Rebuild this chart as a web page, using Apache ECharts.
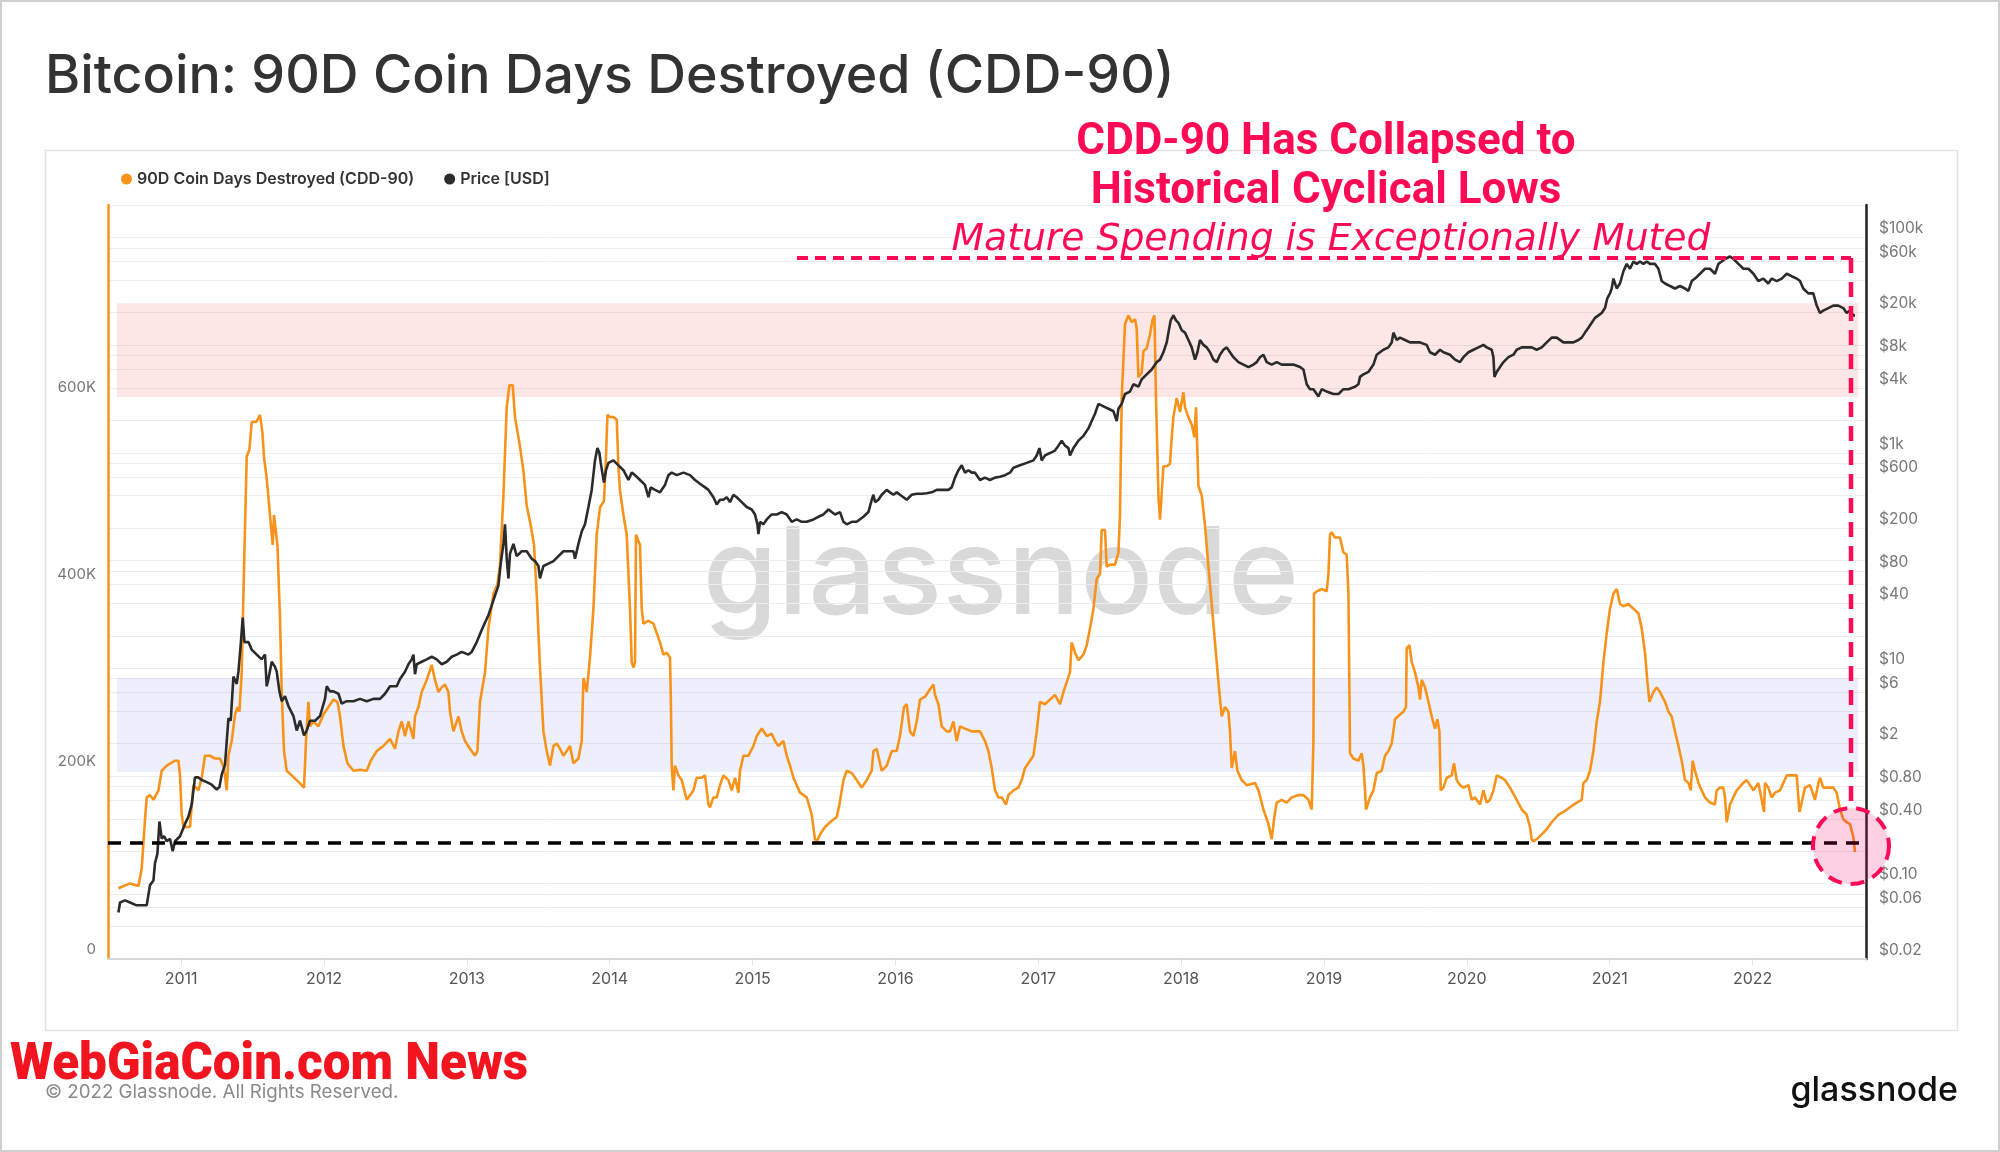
<!DOCTYPE html>
<html><head><meta charset="utf-8">
<script src="https://cdn.jsdelivr.net/npm/echarts@6.0.0/dist/echarts.min.js"></script>
<style>html,body{margin:0;padding:0;background:#fff}#c{width:2000px;height:1152px}</style>
</head><body><div id="c"></div>
<script>
// ---------- tick labels ----------
const yearTicks = [2011,2012,2013,2014,2015,2016,2017,2018,2019,2020,2021,2022];
const cddTicks = [0,200000,400000,600000];
const priceTickValues = [100000,60000,20000,8000,4000,1000,600,200,80,40,10,6,2,0.8,0.4,0.1,0.06,0.02];
const priceTickLabels = ['$100k','$60k','$20k','$8k','$4k','$1k','$600','$200','$80','$40','$10','$6','$2','$0.80','$0.40','$0.10','$0.06','$0.02'];
const priceGridValues = [0.02,0.04,0.06,0.08,0.1,0.2,0.4,0.6,0.8,1,2,4,6,8,10,20,40,60,80,100,200,400,600,800,1000,2000,4000,6000,8000,10000,20000,40000,60000,80000,100000,200000];

// ---------- annotation values ----------
const redBand = [600000, 700000];
const blueBand = [200000, 300000];
const bandYears = [2010.55, 2022.74];
const lowThreshold = 124000;

// ---------- series: [decimal year, CDD-90 in thousands] ----------
const cddSeries = [[2010.561,75.5],[2010.642,80.7],[2010.701,78],[2010.724,96.5],[2010.747,149],[2010.759,172.5],[2010.782,175],[2010.806,170],[2010.841,180],[2010.864,201],[2010.899,206.5],[2010.957,211.7],[2010.981,211.7],[2010.992,196],[2011.004,154],[2011.016,141],[2011.062,141],[2011.086,185.6],[2011.121,180],[2011.144,193.5],[2011.167,217],[2011.202,217],[2011.237,214],[2011.272,214],[2011.300,204],[2011.319,180],[2011.331,217],[2011.354,232.7],[2011.377,261],[2011.394,269],[2011.408,264],[2011.424,306],[2011.440,416],[2011.459,536.5],[2011.478,544],[2011.494,573],[2011.529,574],[2011.552,581],[2011.569,562],[2011.580,536],[2011.599,513],[2011.622,474],[2011.641,442],[2011.650,474],[2011.662,476],[2011.674,442],[2011.692,364],[2011.704,285],[2011.720,222],[2011.739,201],[2011.774,196],[2011.809,191],[2011.844,185.6],[2011.860,183],[2011.874,232.7],[2011.891,274.6],[2011.902,248.4],[2011.926,253.6],[2011.961,248.4],[2011.996,261],[2012.031,269],[2012.066,277],[2012.094,274.6],[2012.112,259],[2012.136,227.5],[2012.164,209],[2012.206,201],[2012.252,202],[2012.299,201],[2012.327,211.7],[2012.369,222],[2012.416,227.5],[2012.462,235],[2012.497,224.5],[2012.521,243],[2012.544,253.6],[2012.567,238],[2012.591,253.6],[2012.626,235],[2012.637,259],[2012.661,269],[2012.684,285],[2012.719,298],[2012.754,314],[2012.777,298],[2012.801,285],[2012.824,290],[2012.847,293],[2012.871,285],[2012.882,264],[2012.906,243],[2012.929,253.6],[2012.941,259],[2012.964,243],[2012.987,232.7],[2013.022,224.5],[2013.057,217],[2013.074,222],[2013.092,274.6],[2013.127,306],[2013.151,353],[2013.186,390],[2013.214,400],[2013.232,421],[2013.256,495],[2013.279,589],[2013.298,612.6],[2013.321,612.6],[2013.337,578.5],[2013.372,547],[2013.396,521],[2013.419,484],[2013.447,463],[2013.470,442],[2013.489,390],[2013.512,311],[2013.536,243],[2013.559,222],[2013.582,206.5],[2013.606,227.5],[2013.629,230],[2013.652,224.5],[2013.676,217],[2013.699,222],[2013.722,227.5],[2013.746,209],[2013.781,214],[2013.804,232.7],[2013.816,300],[2013.839,285],[2013.862,322],[2013.886,374],[2013.909,453],[2013.932,482],[2013.960,489],[2013.974,536.5],[2013.984,581],[2014.002,578.5],[2014.026,578.5],[2014.049,576],[2014.061,526],[2014.072,500],[2014.096,474],[2014.119,453],[2014.142,374],[2014.154,317],[2014.166,311],[2014.177,317],[2014.184,453],[2014.194,453],[2014.212,442],[2014.224,374],[2014.236,358],[2014.271,361],[2014.306,358],[2014.329,348],[2014.352,338],[2014.376,325],[2014.399,327],[2014.422,322],[2014.427,285],[2014.434,206.5],[2014.446,180],[2014.457,206.5],[2014.481,196],[2014.504,191],[2014.539,170],[2014.586,180],[2014.609,193.5],[2014.644,193.5],[2014.667,196],[2014.691,165],[2014.702,162],[2014.726,172.5],[2014.749,172.5],[2014.772,185.6],[2014.796,196],[2014.831,191],[2014.854,180],[2014.877,193.5],[2014.901,177.6],[2014.912,201],[2014.936,217],[2014.971,217],[2015.006,227.5],[2015.029,238],[2015.064,246],[2015.099,238],[2015.134,240.5],[2015.157,232.7],[2015.181,227.5],[2015.216,232.7],[2015.239,217],[2015.262,206.5],[2015.286,193.5],[2015.309,185.6],[2015.332,177.6],[2015.379,172.5],[2015.414,154],[2015.437,128],[2015.449,125.5],[2015.472,133],[2015.507,141],[2015.542,146],[2015.589,151.6],[2015.608,165],[2015.636,191],[2015.659,201],[2015.694,198.5],[2015.729,191],[2015.764,183],[2015.799,191],[2015.834,201],[2015.846,222],[2015.869,224.5],[2015.904,201],[2015.939,206.5],[2015.974,222],[2016.009,222],[2016.032,238],[2016.060,269],[2016.079,272],[2016.102,243],[2016.126,238],[2016.149,253.6],[2016.172,277],[2016.207,280],[2016.242,288],[2016.266,293],[2016.277,282],[2016.301,272],[2016.324,248.4],[2016.359,243],[2016.382,243],[2016.406,253.6],[2016.429,232.7],[2016.452,248.4],[2016.487,246],[2016.534,243],[2016.569,243],[2016.592,243],[2016.627,232.7],[2016.651,222],[2016.674,204],[2016.697,180],[2016.721,172.5],[2016.744,172.5],[2016.774,165],[2016.791,175],[2016.826,180],[2016.861,183],[2016.884,191],[2016.907,204],[2016.942,211.7],[2016.966,217],[2016.989,243],[2017.012,274.6],[2017.047,272],[2017.082,277],[2017.117,282],[2017.152,272],[2017.176,285],[2017.199,295.6],[2017.222,306],[2017.234,338],[2017.257,327],[2017.281,319],[2017.316,325],[2017.339,335],[2017.362,353],[2017.386,374],[2017.409,406],[2017.432,411],[2017.444,458],[2017.467,458],[2017.479,419],[2017.502,421],[2017.537,421],[2017.561,434],[2017.572,474],[2017.584,599],[2017.607,678],[2017.631,687],[2017.654,680],[2017.677,683],[2017.689,673],[2017.701,621],[2017.724,626],[2017.736,649],[2017.759,652],[2017.782,667],[2017.801,683],[2017.813,687],[2017.824,599],[2017.841,495],[2017.852,469],[2017.864,469],[2017.876,526],[2017.899,526],[2017.922,528.6],[2017.934,557],[2017.946,578.5],[2017.969,599],[2017.992,584],[2018.016,605],[2018.027,589],[2018.051,578.5],[2018.074,570.6],[2018.093,557],[2018.104,589],[2018.121,505],[2018.144,495],[2018.167,463],[2018.191,419],[2018.214,379],[2018.237,338],[2018.261,295.6],[2018.284,259],[2018.307,269],[2018.331,264],[2018.342,243],[2018.354,204],[2018.377,222],[2018.394,201],[2018.424,191],[2018.459,185.6],[2018.517,188],[2018.541,180],[2018.576,159.6],[2018.611,144],[2018.634,128],[2018.650,149],[2018.669,167],[2018.704,170],[2018.739,167],[2018.774,172.5],[2018.821,175],[2018.856,175],[2018.891,170],[2018.914,159.6],[2018.926,232.7],[2018.930,390],[2018.949,392.5],[2018.984,395],[2019.019,392.5],[2019.031,411],[2019.042,453],[2019.054,455.6],[2019.077,450],[2019.112,450],[2019.136,434],[2019.159,431.6],[2019.171,390],[2019.178,285],[2019.182,219.6],[2019.206,214],[2019.241,211.7],[2019.264,219.6],[2019.276,206.5],[2019.287,180],[2019.294,159.6],[2019.322,172.5],[2019.346,180],[2019.369,198.5],[2019.404,201],[2019.427,217],[2019.451,222],[2019.474,230],[2019.497,256],[2019.532,261],[2019.556,264],[2019.574,269],[2019.579,332],[2019.598,335],[2019.614,317],[2019.637,306],[2019.661,290],[2019.672,277],[2019.684,298],[2019.707,290],[2019.731,274.6],[2019.754,259],[2019.777,246],[2019.794,256],[2019.808,243],[2019.817,180],[2019.836,183],[2019.859,193.5],[2019.894,196],[2019.910,209],[2019.929,191],[2019.952,185.6],[2019.976,183],[2020.011,185.6],[2020.034,170],[2020.057,172.5],[2020.092,165],[2020.116,180],[2020.139,167],[2020.162,170],[2020.186,180],[2020.209,196],[2020.244,193.5],[2020.267,191],[2020.302,183],[2020.349,170],[2020.384,159.6],[2020.419,154],[2020.442,141],[2020.454,128],[2020.466,125.5],[2020.489,128],[2020.524,133],[2020.559,138.5],[2020.594,146],[2020.641,154],[2020.676,157],[2020.722,162],[2020.769,167],[2020.804,170],[2020.816,188],[2020.839,191],[2020.862,201],[2020.886,222],[2020.909,253.6],[2020.932,274.6],[2020.956,317],[2020.979,348],[2021.002,374],[2021.026,390],[2021.037,392.5],[2021.049,395],[2021.072,379],[2021.096,376.6],[2021.131,379],[2021.166,374],[2021.201,369],[2021.224,353],[2021.247,327],[2021.264,295.6],[2021.278,274.6],[2021.306,285],[2021.329,290],[2021.352,285],[2021.387,274.6],[2021.411,264],[2021.434,259],[2021.457,243],[2021.481,227.5],[2021.504,211.7],[2021.527,191],[2021.551,188],[2021.567,180],[2021.581,211.7],[2021.597,201],[2021.621,188],[2021.644,180],[2021.667,172.5],[2021.702,167],[2021.737,165],[2021.749,180],[2021.772,183],[2021.795,183],[2021.807,172.5],[2021.819,146],[2021.842,165],[2021.865,172.5],[2021.889,180],[2021.935,188],[2021.959,191],[2021.982,185.6],[2022.006,180],[2022.040,188],[2022.064,170],[2022.080,157],[2022.087,188],[2022.110,183],[2022.134,172.5],[2022.157,177.6],[2022.192,180],[2022.216,188],[2022.239,196],[2022.274,196],[2022.309,196],[2022.328,157],[2022.344,167],[2022.367,183],[2022.402,185.6],[2022.437,170],[2022.461,188],[2022.472,193.5],[2022.495,183],[2022.530,183],[2022.565,183],[2022.589,177.6],[2022.612,159.6],[2022.636,149],[2022.659,146],[2022.682,144],[2022.706,130],[2022.717,114]];

// ---------- series: [decimal year, price in USD] ----------
const priceSeries = [[2010.561,0.054],[2010.572,0.067],[2010.607,0.070],[2010.642,0.067],[2010.689,0.063],[2010.759,0.063],[2010.782,0.097],[2010.806,0.107],[2010.817,0.155],[2010.834,0.19],[2010.848,0.378],[2010.864,0.262],[2010.880,0.276],[2010.899,0.248],[2010.922,0.262],[2010.941,0.20],[2010.957,0.248],[2010.992,0.276],[2011.027,0.359],[2011.051,0.42],[2011.074,0.546],[2011.097,0.97],[2011.121,0.97],[2011.144,0.92],[2011.179,0.877],[2011.214,0.83],[2011.249,0.75],[2011.268,0.79],[2011.284,1.03],[2011.307,1.27],[2011.331,3.43],[2011.347,3.26],[2011.366,8.38],[2011.389,7.16],[2011.401,9.3],[2011.417,16.6],[2011.431,29.6],[2011.443,17.5],[2011.471,17.5],[2011.494,14.9],[2011.529,13.4],[2011.564,12.1],[2011.587,13.4],[2011.599,6.8],[2011.611,7.95],[2011.634,11.5],[2011.657,10.3],[2011.669,9.3],[2011.688,6.1],[2011.704,4.95],[2011.727,5.5],[2011.751,4.46],[2011.786,3.6],[2011.809,2.64],[2011.832,3.26],[2011.860,2.38],[2011.879,2.64],[2011.902,3.26],[2011.937,3.26],[2011.972,3.6],[2012.007,5.2],[2012.019,6.8],[2012.042,6.1],[2012.066,6.1],[2012.101,5.8],[2012.124,4.7],[2012.159,4.95],[2012.206,4.95],[2012.252,5.2],[2012.299,4.95],[2012.346,5.2],[2012.392,5.2],[2012.427,5.8],[2012.462,6.8],[2012.509,6.8],[2012.532,7.95],[2012.567,9.3],[2012.591,10.9],[2012.614,12.1],[2012.626,13.4],[2012.637,8.8],[2012.649,10.9],[2012.684,11.5],[2012.719,12.1],[2012.754,12.8],[2012.789,12.1],[2012.824,10.9],[2012.859,11.5],[2012.894,12.8],[2012.929,13.4],[2012.964,14.2],[2013.011,13.4],[2013.034,14.2],[2013.069,17.5],[2013.104,22.7],[2013.127,26.6],[2013.151,31.1],[2013.174,38.4],[2013.197,47.4],[2013.221,58.5],[2013.237,93.8],[2013.256,142.8],[2013.267,217],[2013.279,104],[2013.291,68.4],[2013.302,116],[2013.326,142.8],[2013.349,110],[2013.384,122],[2013.419,122],[2013.454,104],[2013.477,98.9],[2013.501,89],[2013.512,68.4],[2013.536,89],[2013.571,93.8],[2013.606,98.9],[2013.641,110],[2013.676,122],[2013.711,122],[2013.746,122],[2013.757,104],[2013.781,142.8],[2013.804,186],[2013.827,217],[2013.851,314],[2013.874,453],[2013.897,851],[2013.914,1107],[2013.928,996],[2013.937,807],[2013.951,621],[2013.960,531],[2013.974,690],[2013.991,807],[2014.026,851],[2014.061,766],[2014.096,690],[2014.131,560],[2014.154,655],[2014.177,621],[2014.212,560],[2014.247,504],[2014.271,387],[2014.287,478],[2014.317,453],[2014.352,430],[2014.387,504],[2014.411,621],[2014.434,655],[2014.469,621],[2014.516,655],[2014.562,621],[2014.597,560],[2014.632,517],[2014.667,478],[2014.691,453],[2014.702,430],[2014.726,387],[2014.749,331],[2014.772,367],[2014.796,367],[2014.819,387],[2014.842,349],[2014.866,408],[2014.889,387],[2014.924,349],[2014.959,314],[2014.994,298],[2015.017,268],[2015.034,217],[2015.041,176],[2015.052,229],[2015.076,217],[2015.099,241],[2015.134,268],[2015.169,268],[2015.204,282],[2015.239,268],[2015.274,229],[2015.309,241],[2015.344,229],[2015.379,229],[2015.426,241],[2015.461,255],[2015.496,268],[2015.531,298],[2015.554,282],[2015.577,268],[2015.612,282],[2015.636,229],[2015.659,217],[2015.694,229],[2015.729,229],[2015.776,255],[2015.811,282],[2015.834,367],[2015.846,408],[2015.857,349],[2015.881,367],[2015.904,408],[2015.939,453],[2015.962,430],[2015.986,408],[2016.009,430],[2016.032,408],[2016.056,387],[2016.079,367],[2016.114,408],[2016.149,417],[2016.184,417],[2016.219,421],[2016.254,430],[2016.289,453],[2016.324,453],[2016.371,453],[2016.394,478],[2016.417,589],[2016.441,690],[2016.464,766],[2016.487,655],[2016.511,690],[2016.534,655],[2016.557,655],[2016.592,560],[2016.627,589],[2016.662,560],[2016.697,589],[2016.732,600],[2016.767,621],[2016.802,655],[2016.826,728],[2016.872,766],[2016.919,807],[2016.966,851],[2016.989,946],[2017.008,1107],[2017.024,851],[2017.047,946],[2017.082,996],[2017.117,1050],[2017.141,1167],[2017.164,1297],[2017.187,1167],[2017.211,1107],[2017.222,946],[2017.246,1107],[2017.281,1297],[2017.316,1439],[2017.351,1687],[2017.374,1974],[2017.397,2309],[2017.421,2851],[2017.456,2704],[2017.491,2565],[2017.526,2433],[2017.549,1974],[2017.561,2565],[2017.584,2851],[2017.607,3517],[2017.642,3707],[2017.666,4337],[2017.701,4113],[2017.724,4818],[2017.759,5349],[2017.794,5938],[2017.829,6959],[2017.852,7336],[2017.876,8590],[2017.899,10600],[2017.911,13070],[2017.927,16990],[2017.946,18880],[2017.964,16990],[2017.981,16110],[2018.004,13770],[2018.027,13070],[2018.051,11170],[2018.074,9530],[2018.097,7336],[2018.114,8590],[2018.132,11170],[2018.156,10050],[2018.179,9530],[2018.202,8590],[2018.226,7336],[2018.249,6959],[2018.272,8150],[2018.296,9060],[2018.319,9530],[2018.342,8590],[2018.366,7730],[2018.401,6959],[2018.436,6600],[2018.471,6260],[2018.506,6600],[2018.529,6959],[2018.552,7730],[2018.576,8150],[2018.599,6959],[2018.634,6600],[2018.669,6959],[2018.704,6600],[2018.739,6600],[2018.786,6600],[2018.832,6260],[2018.856,5938],[2018.879,4337],[2018.902,3900],[2018.926,3900],[2018.949,3517],[2018.961,3336],[2018.984,3900],[2019.019,3707],[2019.066,3517],[2019.101,3517],[2019.136,3900],[2019.171,3900],[2019.217,4113],[2019.241,4337],[2019.252,5075],[2019.276,5349],[2019.311,5640],[2019.346,6600],[2019.369,8150],[2019.392,8590],[2019.416,9060],[2019.451,9530],[2019.474,10600],[2019.486,13070],[2019.509,11170],[2019.532,11750],[2019.567,11170],[2019.602,10600],[2019.637,10600],[2019.672,10600],[2019.719,10050],[2019.742,8590],[2019.777,8150],[2019.812,9060],[2019.836,8590],[2019.882,8150],[2019.917,7336],[2019.952,6959],[2019.976,7730],[2020.011,8590],[2020.046,9060],[2020.081,9530],[2020.116,10050],[2020.139,9530],[2020.174,9060],[2020.186,7730],[2020.193,5075],[2020.209,5640],[2020.232,6260],[2020.256,6959],[2020.291,7730],[2020.326,8150],[2020.349,9060],[2020.384,9530],[2020.419,9530],[2020.454,9530],[2020.489,9060],[2020.524,9530],[2020.559,10600],[2020.594,11750],[2020.629,11750],[2020.676,10600],[2020.711,10600],[2020.746,10600],[2020.781,11170],[2020.804,11750],[2020.827,13070],[2020.851,14520],[2020.874,16110],[2020.897,17910],[2020.921,18880],[2020.944,19880],[2020.967,22080],[2020.983,27240],[2021.002,30270],[2021.014,33590],[2021.026,41500],[2021.049,33590],[2021.072,37330],[2021.096,48530],[2021.119,56800],[2021.142,51170],[2021.166,59840],[2021.189,56800],[2021.212,59840],[2021.236,56800],[2021.259,59840],[2021.282,56800],[2021.317,56800],[2021.341,51170],[2021.364,39360],[2021.387,37330],[2021.422,35400],[2021.457,33590],[2021.492,35400],[2021.527,33590],[2021.551,31900],[2021.574,39360],[2021.597,41500],[2021.632,46030],[2021.667,51170],[2021.702,51170],[2021.737,46030],[2021.761,56800],[2021.784,59840],[2021.807,63100],[2021.842,66530],[2021.866,63100],[2021.901,56800],[2021.936,51170],[2021.971,51170],[2022.006,46030],[2022.040,39360],[2022.076,41500],[2022.110,37330],[2022.134,41500],[2022.169,39360],[2022.204,41500],[2022.239,46030],[2022.274,43650],[2022.309,41500],[2022.332,39360],[2022.355,33590],[2022.390,30270],[2022.425,30270],[2022.449,23290],[2022.472,19880],[2022.495,20940],[2022.530,22080],[2022.565,23290],[2022.600,23290],[2022.635,22080],[2022.659,19880],[2022.682,20940],[2022.705,18880],[2022.717,18880]];

const ORANGE = '#f7931a';
const PINK = '#ff0a54';

const chart = echarts.init(document.getElementById('c'), null, {renderer: 'canvas'});

function priceLabel(v) {
  let best = 0;
  for (let i = 1; i < priceTickValues.length; i++) {
    if (Math.abs(Math.log10(priceTickValues[i]) - v) < Math.abs(Math.log10(priceTickValues[best]) - v)) best = i;
  }
  return priceTickLabels[best];
}

const option = {
  animation: false,
  backgroundColor: '#ffffff',
  textStyle: {fontFamily: 'Inter'},
  grid: {left: 108, right: 134, top: 205, bottom: 193, containLabel: false},
  legend: {
    left: 116, top: 166, icon: 'circle', itemWidth: 11, itemHeight: 11, itemGap: 30,
    textStyle: {fontSize: 16, fontWeight: 600, color: '#333', fontFamily: 'Inter'},
    data: ['90D Coin Days Destroyed (CDD-90)', 'Price [USD]']
  },
  xAxis: {
    type: 'value', min: 2010.488, max: 2022.794,
    axisLine: {show: true, onZero: false, lineStyle: {color: '#d8d8d8', width: 2}},
    axisTick: {show: true, customValues: yearTicks, length: 6, lineStyle: {color: '#e2e2e2'}},
    axisLabel: {customValues: yearTicks, formatter: v => String(Math.round(v)), color: '#555', fontSize: 16, margin: 12, fontFamily: 'Inter'},
    splitLine: {show: false}
  },
  yAxis: [
    {
      type: 'value', position: 'left', min: 0, max: 805000,
      axisLine: {show: true, onZero: false, lineStyle: {color: ORANGE, width: 2.5}},
      axisTick: {show: false},
      axisLabel: {customValues: cddTicks, formatter: v => v === 0 ? '0' : (v / 1000) + 'K', color: '#777', fontSize: 15, margin: 12, verticalAlign: 'bottom', lineHeight: 20, fontFamily: 'Inter'},
      splitLine: {show: false}
    },
    {
      type: 'log', logBase: 10, position: 'right', min: 0.02, max: 200000, show: false,
      splitLine: {show: false}
    },
    {
      type: 'value', position: 'right', min: Math.log10(0.02), max: Math.log10(200000),
      axisLine: {show: true, onZero: false, lineStyle: {color: '#222', width: 2.5}},
      axisTick: {show: false, customValues: priceGridValues.map(v => Math.log10(v))},
      axisLabel: {customValues: priceTickValues.map(v => Math.log10(v)), formatter: priceLabel, color: '#777', fontSize: 15.5, margin: 13, verticalAlign: 'bottom', lineHeight: 18, fontFamily: 'Inter'},
      splitLine: {show: true, lineStyle: {color: '#ededed', width: 1}}
    }
  ],
  series: [
    {
      name: '90D Coin Days Destroyed (CDD-90)', type: 'line', xAxisIndex: 0, yAxisIndex: 0,
      data: cddSeries.map(p => [p[0], p[1] * 1000]),
      showSymbol: false, symbol: 'none', color: ORANGE, z: 3,
      lineStyle: {color: ORANGE, width: 2.6},
      markArea: {
        silent: true,
        data: [
          [{xAxis: bandYears[0], yAxis: redBand[0], itemStyle: {color: 'rgba(242,90,90,0.15)'}}, {xAxis: bandYears[1], yAxis: redBand[1]}],
          [{xAxis: bandYears[0], yAxis: blueBand[0], itemStyle: {color: 'rgba(90,110,230,0.11)'}}, {xAxis: bandYears[1], yAxis: blueBand[1]}]
        ]
      },
      markLine: {
        silent: true, symbol: ['none', 'none'], label: {show: false},
        lineStyle: {color: '#000', width: 3.5, type: [13, 9]},
        data: [{yAxis: lowThreshold}]
      }
    },
    {
      name: 'Price [USD]', type: 'line', xAxisIndex: 0, yAxisIndex: 1,
      data: priceSeries,
      showSymbol: false, symbol: 'none', color: '#2b2b2b', z: 4,
      lineStyle: {color: '#2b2b2b', width: 2.6}
    }
  ],
  graphic: [
    {type: 'rect', silent: true, z: 0, shape: {x: 1, y: 1, width: 1998, height: 1150}, style: {fill: 'none', stroke: '#d0d0d0', lineWidth: 2}},
    {type: 'rect', silent: true, z: 0, shape: {x: 45.5, y: 150.5, width: 1912, height: 880}, style: {fill: 'none', stroke: '#e3e3e3', lineWidth: 1.5}},
    {type: 'text', silent: true, z: 0, x: 1001, y: 578, style: {text: 'glassnode', font: '500 121px Inter', fill: 'rgba(0,0,0,0.15)', textAlign: 'center', textVerticalAlign: 'middle', align: 'center', verticalAlign: 'middle'}},
    {type: 'text', silent: true, x: 45, y: 77, style: {text: 'Bitcoin: 90D Coin Days Destroyed (CDD-90)', font: '500 53.7px Inter', fill: '#333', textVerticalAlign: 'middle', verticalAlign: 'middle'}},
    {type: 'text', silent: true, z: 100, x: 1326, y: 143, style: {text: 'CDD-90 Has Collapsed to', font: 'bold 44px Roboto', fill: PINK, textAlign: 'center', textVerticalAlign: 'middle', align: 'center', verticalAlign: 'middle'}},
    {type: 'text', silent: true, z: 100, x: 1326, y: 192, style: {text: 'Historical Cyclical Lows', font: 'bold 44px Roboto', fill: PINK, textAlign: 'center', textVerticalAlign: 'middle', align: 'center', verticalAlign: 'middle'}},
    {type: 'text', silent: true, z: 100, x: 1331, y: 240, style: {text: 'Mature Spending is Exceptionally Muted', font: 'italic 37.7px "DejaVu Sans"', fill: PINK, textAlign: 'center', textVerticalAlign: 'middle', align: 'center', verticalAlign: 'middle'}},
    {type: 'line', silent: true, z: 100, shape: {x1: 797, y1: 258, x2: 1851, y2: 258}, style: {stroke: PINK, lineWidth: 4, lineDash: [11, 7]}},
    {type: 'line', silent: true, z: 100, shape: {x1: 1851, y1: 258, x2: 1851, y2: 807}, style: {stroke: PINK, lineWidth: 4.5, lineDash: [15, 9]}},
    {type: 'circle', silent: true, z: 100, shape: {cx: 1851, cy: 846, r: 38}, style: {fill: 'rgba(245,0,100,0.18)', stroke: PINK, lineWidth: 4, lineDash: [14, 9]}},
    {type: 'text', silent: true, x: 45, y: 1092, style: {text: '\u00a9 2022 Glassnode. All Rights Reserved.', font: '18.7px Inter', fill: '#8a8a8a', textVerticalAlign: 'middle', verticalAlign: 'middle'}},
    {type: 'text', silent: true, z: 100, x: 10, y: 1066, scaleX: 0.95, style: {text: 'WebGiaCoin.com News', font: '900 52px Roboto', fill: '#f2141e', textVerticalAlign: 'middle', verticalAlign: 'middle'}},
    {type: 'text', silent: true, x: 1958, y: 1091, style: {text: 'glassnode', font: '500 34px Inter', fill: '#111', textAlign: 'right', textVerticalAlign: 'middle', align: 'right', verticalAlign: 'middle'}}
  ]
};
chart.setOption(option);
</script>
</body></html>
